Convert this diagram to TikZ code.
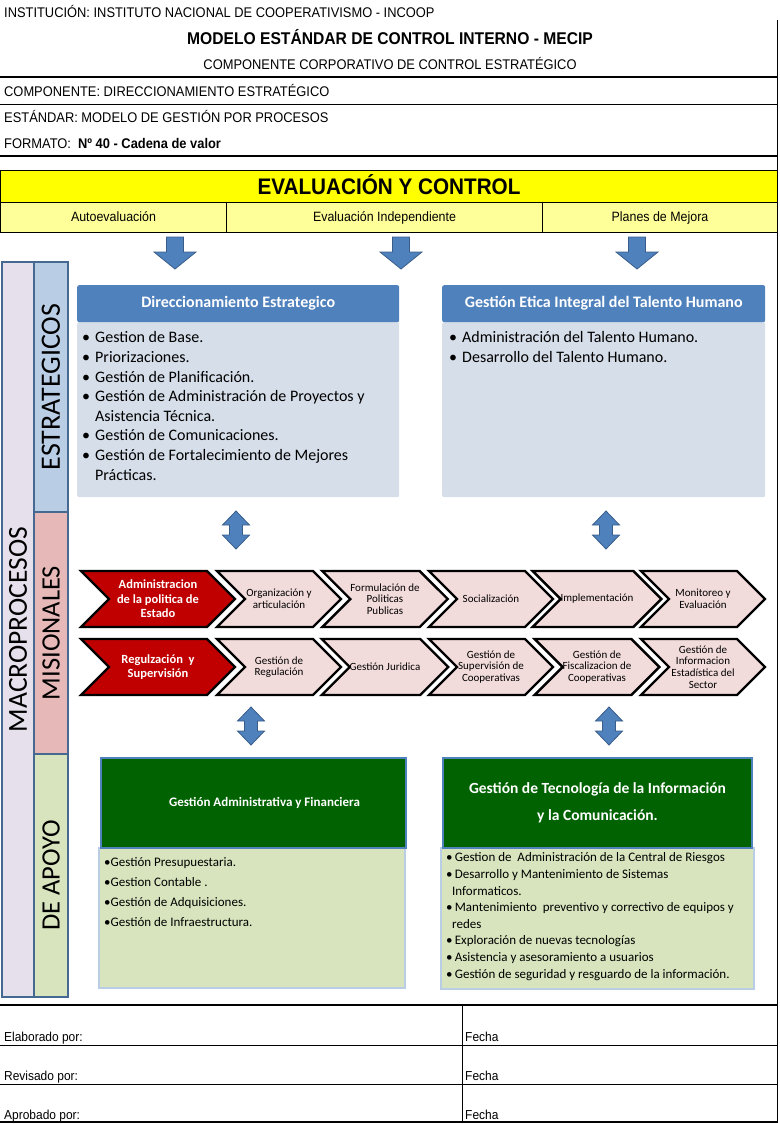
\documentclass[tikz,border=0pt]{standalone}
\usepackage{fontspec}
\setmainfont{Carlito}
\newfontfamily\narrowfont[FakeStretch=0.92]{Liberation Sans}
\usetikzlibrary{shapes.symbols}

\definecolor{hdrblue}{RGB}{79,129,189}
\definecolor{arrowline}{RGB}{56,93,138}
\definecolor{bodyblue}{RGB}{214,222,234}
\definecolor{colline}{RGB}{70,105,145}
\definecolor{lavender}{RGB}{230,224,236}
\definecolor{estblue}{RGB}{185,205,229}
\definecolor{mispink}{RGB}{230,185,184}
\definecolor{apogreen}{RGB}{215,228,189}
\definecolor{chevpink}{RGB}{242,220,219}
\definecolor{chevred}{RGB}{192,0,0}
\definecolor{darkgreen}{RGB}{0,98,0}
\definecolor{evalyellow}{RGB}{255,255,0}
\definecolor{subyellow}{RGB}{255,255,153}
\definecolor{greenline}{RGB}{185,205,229}

\newcommand{\bitem}{\makebox[13pt][l]{•}}

\tikzset{
  hline/.style={line width=1pt},
  heavy/.style={line width=2pt},
  formtext/.style={inner sep=0pt, font=\narrowfont\fontsize{14}{16}\selectfont},
  signtext/.style={formtext, anchor=base west, font=\narrowfont\fontsize{13}{15}\selectfont},
  evalcell/.style={draw, line width=1pt, fill=subyellow, minimum height=30pt, anchor=north west, inner sep=0pt, text height=10pt, text depth=3pt, font=\narrowfont\fontsize{13.5}{15}\selectfont},
  hdr/.style={fill=hdrblue, text=white, rounded corners=2pt, anchor=north west, inner sep=0pt, minimum height=37pt, font=\bfseries\fontsize{16}{18}\selectfont},
  bodyb/.style={fill=bodyblue, rounded corners=2pt, anchor=north west, inner sep=0pt},
  lst/.style={anchor=north west, align=left, inner sep=0pt},
  grnhdr/.style={fill=darkgreen, draw=hdrblue, line width=2pt, text=white, align=center, anchor=north west, inner sep=0pt, minimum height=90pt, font=\bfseries\fontsize{13}{27}\selectfont},
  grnbody/.style={fill=apogreen, draw=greenline, line width=1.5pt, anchor=north west, inner sep=0pt},
  colbox/.style={draw=colline, line width=2pt, rotate=90, inner sep=0pt, font=\fontsize{26.5}{27}\selectfont},
  chev/.style={signal, signal to=east, signal from=west, draw=black, line width=2.4pt, fill=chevpink, minimum height=56pt, minimum width=124pt, inner sep=0pt, align=center, font=\fontsize{11}{11.6}\selectfont},
  chevr/.style={chev, fill=chevred, text=white, minimum width=154pt, font=\bfseries\fontsize{12.5}{14.5}\selectfont},
  downarr/.pic={\draw[arrowline, fill=hdrblue, line width=0.8pt] (-8.5,0) -- (8.5,0) -- (8.5,15) -- (21,15) -- (0,32) -- (-21,15) -- (-8.5,15) -- cycle;},
  bothway/.pic={\draw[arrowline, fill=hdrblue, line width=0.8pt] (0,0) -- (13.5,14) -- (6.5,14) -- (6.5,24) -- (13.5,24) -- (0,38) -- (-13.5,24) -- (-6.5,24) -- (-6.5,14) -- (-13.5,14) -- cycle;}
}

\begin{document}
\begin{tikzpicture}[x=1pt,y=-1pt]
\useasboundingbox (0,0) rectangle (779,1124);

% form header
\node[formtext, anchor=base west] (inst) at (4,18) {INSTITUCIÓN: INSTITUTO NACIONAL DE COOPERATIVISMO - INCOOP};
\node[formtext, anchor=base, font=\narrowfont\bfseries\fontsize{17}{19}\selectfont] (mecip) at (390,45) {MODELO ESTÁNDAR DE CONTROL INTERNO - MECIP};
\node[formtext, anchor=base] (corp) at (390,70) {COMPONENTE CORPORATIVO DE CONTROL ESTRATÉGICO};
\node[formtext, anchor=base west] (comp) at (4,96) {COMPONENTE: DIRECCIONAMIENTO ESTRATÉGICO};
\node[formtext, anchor=base west] (estd) at (4,122) {ESTÁNDAR: MODELO DE GESTIÓN POR PROCESOS};
\node[formtext, anchor=base west] (fmt) at (4,148) {FORMATO:\ \ \textbf{Nº 40 - Cadena de valor}};
\draw[hline] (777,20) -- (777,1123);
\draw[heavy] (0,77) -- (777,77);
\draw[hline] (0,104) -- (777,104);
\draw[heavy] (0,156) -- (777,156);

% evaluacion y control
\node[draw, line width=1pt, fill=evalyellow, minimum width=777pt, minimum height=32pt, anchor=north west, inner sep=0pt, text height=16pt, text depth=1pt, font=\narrowfont\bfseries\fontsize{22.5}{24}\selectfont] (eval) at (0,170) {EVALUACIÓN Y CONTROL};
\node[evalcell, minimum width=226pt] (auto) at (0,202) {Autoevaluación};
\node[evalcell, minimum width=316pt] (indep) at (226,202) {Evaluación Independiente};
\node[evalcell, minimum width=235pt] (mejora) at (542,202) {Planes de Mejora};
\pic at (175,237) {downarr};
\pic at (401,237) {downarr};
\pic at (637,237) {downarr};

% macroprocesos
\node[colbox, fill=lavender, minimum width=735pt, minimum height=32pt, font=\fontsize{27.5}{28}\selectfont] (macro) at (18,629.5) {MACROPROCESOS};
\node[colbox, fill=estblue, minimum width=250pt, minimum height=34pt, font=\fontsize{28}{28}\selectfont] (estr) at (51,387) {ESTRATEGICOS};
\node[colbox, fill=mispink, minimum width=242pt, minimum height=34pt] (mision) at (51,633) {MISIONALES};
\node[colbox, fill=apogreen, minimum width=243pt, minimum height=34pt] (apoyo) at (51,875.5) {DE APOYO};

% estrategicos
\node[bodyb, minimum width=322pt, minimum height=175pt] (dirb) at (77,322) {};
\node[hdr, minimum width=322pt] (dir) at (77,285) {Direccionamiento Estrategico};
\node[lst, font=\fontsize{16}{19.6}\selectfont] (dirl) at (82,329) {\strut\bitem Gestion de Base.\\
\bitem Priorizaciones.\\
\bitem Gestión de Planificación.\\
\bitem Gestión de Administración de Proyectos y\\
\hspace*{13pt}Asistencia Técnica.\\
\bitem Gestión de Comunicaciones.\\
\bitem Gestión de Fortalecimiento de Mejores\\
\hspace*{13pt}Prácticas.};
\node[bodyb, minimum width=323pt, minimum height=175pt] (talb) at (442,322) {};
\node[hdr, minimum width=323pt] (tal) at (442,285) {Gestión Etica Integral del Talento Humano};
\node[lst, font=\fontsize{16}{19.6}\selectfont] (tall) at (449,329) {\strut\bitem Administración del Talento Humano.\\
\bitem Desarrollo del Talento Humano.};
\pic at (236,511) {bothway};
\pic at (606,511) {bothway};

% misionales
\node[chevr] (adm) at (158,599) {Administracion\\de la politica de\\Estado};
\foreach \t [count=\i] in {{Organización y\\articulación},{Formulación de\\Politicas\\Publicas},{Socialización},{Implementación},{Monitoreo y\\Evaluación}}
  \node[chev] (pol\i) at ({279+106*(\i-1)},599) {\t};
\node[chevr] (reg) at (158,667) {Regulzación\ \ y\\Supervisión};
\foreach \t [count=\i] in {{Gestión de\\Regulación},{Gestión Juridica},{Gestión de\\Supervisión de\\Cooperativas},{Gestión de\\Fiscalizacion de\\Cooperativas},{Gestión de\\Informacion\\Estadística del\\Sector}}
  \node[chev] (sup\i) at ({279+106*(\i-1)},667) {\t};
\pic at (251,707) {bothway};
\pic at (609,707) {bothway};

% de apoyo
\node[grnbody, minimum width=306pt, minimum height=140pt] (admb) at (98,847) {};
\node[grnhdr, minimum width=305pt] (admf) at (100,757) {\hspace*{22pt}Gestión Administrativa y Financiera};
\node[lst, font=\fontsize{13}{20}\selectfont] (admfl) at (104,852) {\strut•Gestión Presupuestaria.\\
•Gestion Contable .\\
•Gestión de Adquisiciones.\\
•Gestión de Infraestructura.};
\node[grnbody, minimum width=313pt, minimum height=141pt] (ticb) at (440,847) {};
\node[grnhdr, minimum width=309pt, font=\bfseries\fontsize{15.5}{27}\selectfont] (tic) at (442,757) {Gestión de Tecnología de la Información\\y la Comunicación.};
\node[lst, font=\fontsize{13}{16.6}\selectfont] (ticl) at (446,850) {\strut•\,Gestion de\ \ Administración de la Central de Riesgos\\
•\,Desarrollo y Mantenimiento de Sistemas\\
\hspace*{6pt}Informaticos.\\
•\,Mantenimiento\ \ preventivo y correctivo de equipos y\\
\hspace*{6pt}redes\\
•\,Exploración de nuevas tecnologías\\
•\,Asistencia y asesoramiento a usuarios\\
•\,Gestión de seguridad y resguardo de la información.};

% firmas
\draw[heavy] (0,1005) -- (777,1005);
\draw[hline] (0,1045) -- (777,1045);
\draw[hline] (0,1084) -- (777,1084);
\draw[heavy] (0,1122) -- (777,1122);
\draw[hline] (462,1005) -- (462,1122);
\node[signtext] (elab) at (4,1041) {Elaborado por:};
\node[signtext] (f1) at (465,1041) {Fecha};
\node[signtext] (rev) at (4,1080) {Revisado por:};
\node[signtext] (f2) at (465,1080) {Fecha};
\node[signtext] (apr) at (4,1119) {Aprobado por:};
\node[signtext] (f3) at (465,1119) {Fecha};
\end{tikzpicture}
\end{document}
